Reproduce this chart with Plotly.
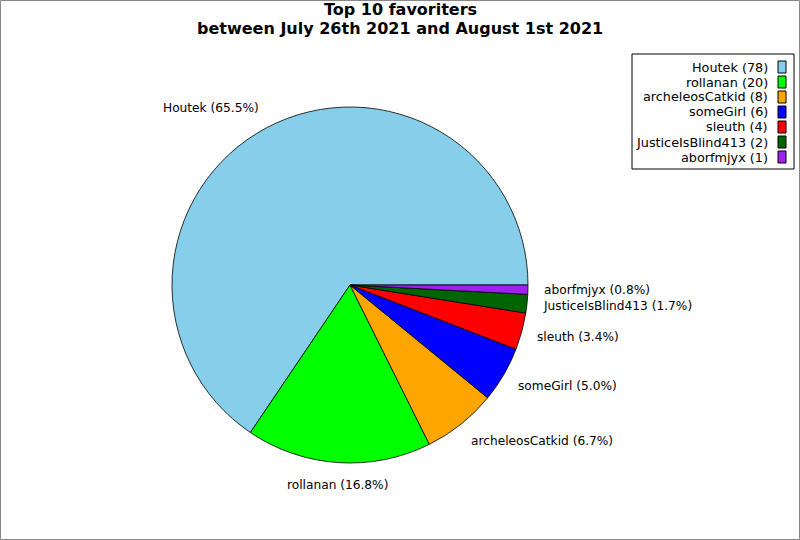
import math
import plotly.graph_objects as go

labels = ["Houtek", "rollanan", "archeleosCatkid", "someGirl", "sleuth", "JusticeIsBlind413", "aborfmjyx"]
values = [78, 20, 8, 6, 4, 2, 1]
colors = ["#87CEEB", "#00FF00", "#FFA500", "#0000FF", "#FF0000", "#006400", "#A020F0"]
title_lines = ["Top 10 favoriters", "between July 26th 2021 and August 1st 2021"]

W, H = 800, 540
cx, cy, r = 350, 285, 178
label_dx, label_dy = 194, 200  # label distance from the centre (px)

total = sum(values)
# plotly: with counterclockwise direction the first slice ends at `rotation`;
# shift so the first slice starts at 3 o'clock like the reference
first_share = values[0] / total * 360.0
rotation = 90 - first_share

fig = go.Figure()
fig.add_trace(go.Pie(
    labels=labels, values=values, sort=False, direction="counterclockwise", rotation=rotation,
    marker=dict(colors=colors, line=dict(color="black", width=0.8)),
    textinfo="none",
    domain=dict(x=[(cx - r) / W, (cx + r) / W], y=[1 - (cy + r) / H, 1 - (cy - r) / H]),
    showlegend=False, hoverinfo="label+value+percent",
))

annotations = []
# slice labels at the middle angle of each slice, just outside the pie
cum = 0.0
for lab, val in zip(labels, values):
    mid = math.radians((cum + val / 2) / total * 360.0)
    cum += val
    c, s = math.cos(mid), math.sin(mid)
    px = cx + label_dx * c
    py = cy - label_dy * s
    anchor = "left" if c > 0.1 else ("right" if c < -0.1 else "center")
    shift = 2 if anchor == "right" else (-2 if anchor == "left" else 0)
    annotations.append(dict(xref="paper", yref="paper", x=(px + shift) / W, y=1 - py / H, xanchor=anchor,
                            yanchor="middle", text=f"{lab} ({val / total * 100:.1f}%)", showarrow=False,
                            font=dict(family="DejaVu Sans", size=12.2, color="black")))

# legend box drawn manually (symbols on the right, as in the reference)
x_text = 770 / W
row0, dy = 67, 15
shapes = [dict(type="rect", xref="paper", yref="paper", x0=0.5 / W, x1=1 - 0.5 / W, y0=0.5 / H, y1=1 - 0.5 / H,
               line=dict(color="#888888", width=1)),
          dict(type="rect", xref="paper", yref="paper", x0=632 / W, x1=794 / W, y0=1 - 169 / H, y1=1 - 54 / H,
               line=dict(color="black", width=1), fillcolor="white")]
for i, (lab, val, col) in enumerate(zip(labels, values, colors)):
    y = row0 + i * dy
    annotations.append(dict(xref="paper", yref="paper", x=x_text, y=1 - y / H, xanchor="right", yanchor="middle",
                            text=f"{lab} ({val})", showarrow=False,
                            font=dict(family="DejaVu Sans", size=12.8, color="black")))
    shapes.append(dict(type="rect", xref="paper", yref="paper", x0=778 / W, x1=786 / W,
                       y0=1 - (y + 6) / H, y1=1 - (y - 6) / H, line=dict(color="black", width=1), fillcolor=col))

for i, line in enumerate(title_lines):
    annotations.append(dict(xref="paper", yref="paper", x=0.5, y=1 - (10 + 19 * i) / H, xanchor="center",
                            yanchor="middle", text=f"<b>{line}</b>", showarrow=False,
                            font=dict(family="DejaVu Sans", size=16, color="black")))

fig.update_layout(
    width=W, height=H, margin=dict(l=0, r=0, t=0, b=0),
    paper_bgcolor="white", plot_bgcolor="white",
    shapes=shapes, annotations=annotations,
)
fig.write_html("out.html", config={"displayModeBar": False},
               post_script="document.body.style.margin='0';")
